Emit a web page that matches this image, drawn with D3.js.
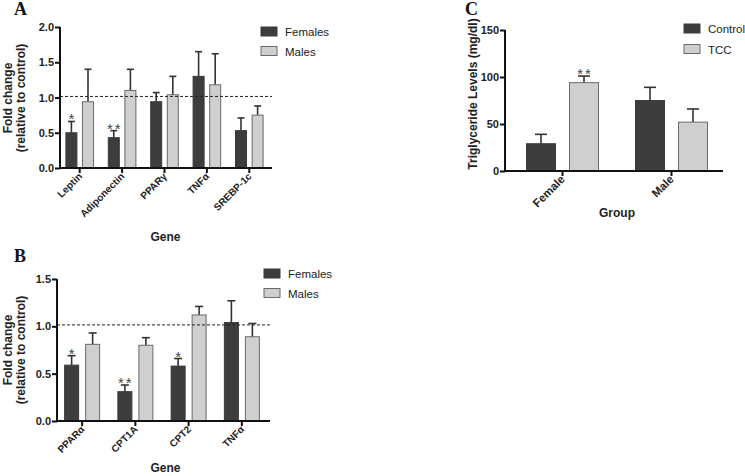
<!DOCTYPE html>
<html><head><meta charset="utf-8">
<script src="https://cdn.jsdelivr.net/npm/d3@7"></script>
<style>
body{margin:0;background:#fff}
svg{display:block}
</style>
</head><body>
<svg id="chart" width="745" height="476" font-family="Liberation Sans, Arial, sans-serif"></svg>
<script>
// ---- Panel A data ----
const genesA = ["Leptin", "Adiponectin", "PPARγ", "TNFα", "SREBP-1c"];
const femalesA = [0.50, 0.43, 0.94, 1.30, 0.53];
const femalesErrA = [0.16, 0.10, 0.13, 0.35, 0.18];
const malesA = [0.94, 1.10, 1.04, 1.18, 0.75];
const malesErrA = [0.46, 0.30, 0.26, 0.44, 0.13];
const sigFemalesA = ["*", "**", "", "", ""];
const ticksA = [0.0, 0.5, 1.0, 1.5, 2.0];

// ---- Panel B data ----
const genesB = ["PPARα", "CPT1A", "CPT2", "TNFα"];
const femalesB = [0.59, 0.31, 0.58, 1.04];
const femalesErrB = [0.10, 0.07, 0.08, 0.23];
const malesB = [0.81, 0.80, 1.12, 0.89];
const malesErrB = [0.12, 0.08, 0.09, 0.14];
const sigFemalesB = ["*", "**", "*", ""];
const ticksB = [0.0, 0.5, 1.0, 1.5];

// ---- Panel C data ----
const groupsC = ["Female", "Male"];
const controlC = [29, 75];
const controlErrC = [10, 14];
const tccC = [94, 52];
const tccErrC = [7, 14];
const sigTccC = ["**", ""];
const ticksC = [0, 50, 100, 150];

const refLine = 1.015;
const seriesAB = ["Females", "Males"];
const seriesC = ["Control", "TCC"];

const DARK = "#3d3d3d", LIGHT = "#cfcfd1", STROKE = "#3a3a3a", LSTROKE = "#6a6a6a";
const SANS = "Liberation Sans, Arial, sans-serif";
const svg = d3.select("#chart");

function panel(o) {
  const g = svg.append("g");
  const x = d3.scaleBand().domain(o.cats).range([o.x0, o.x1]).padding(0);
  const y = d3.scaleLinear().domain([0, o.ymax]).range([o.yBot, o.yTop]);
  const cxOf = c => x(c) + x.bandwidth() / 2 + o.shift;

  const series = [
    {vals: o.s1, errs: o.e1, fill: DARK, stroke: STROKE, off: -o.off, sig: o.sig1},
    {vals: o.s2, errs: o.e2, fill: LIGHT, stroke: LSTROKE, off: o.off, sig: o.sig2}
  ];
  series.forEach(s => {
    o.cats.forEach((c, i) => {
      const cx = cxOf(c) + s.off;
      const v = s.vals[i], e = s.errs[i];
      g.append("line").attr("x1", cx).attr("x2", cx).attr("y1", y(v)).attr("y2", y(v + e))
        .attr("stroke", "#333").attr("stroke-width", 1.6);
      g.append("line").attr("x1", cx - o.capW / 2).attr("x2", cx + o.capW / 2)
        .attr("y1", y(v + e)).attr("y2", y(v + e)).attr("stroke", "#333").attr("stroke-width", 1.6);
      g.append("rect").attr("x", cx - o.barW / 2).attr("width", o.barW)
        .attr("y", y(v)).attr("height", y(0) - y(v))
        .attr("fill", s.fill).attr("stroke", s.stroke).attr("stroke-width", 1);
      if (s.sig && s.sig[i]) {
        g.append("text").attr("x", cx + (s.sig[i].length > 1 ? 1 : 0)).attr("y", y(v + e) + 3)
          .attr("text-anchor", "middle").attr("font-size", o.sigSize)
          .attr("letter-spacing", s.sig[i].length > 1 ? 2 : 0)
          .attr("fill", "#444444").text(s.sig[i]);
      }
    });
  });

  if (o.ref) {
    g.append("line").attr("x1", o.x0).attr("x2", o.x1).attr("y1", y(o.ref)).attr("y2", y(o.ref))
      .attr("stroke", "#222").attr("stroke-width", 1).attr("stroke-dasharray", "3,2");
  }

  // y axis
  const ya = g.append("g").attr("transform", `translate(${o.x0},0)`)
    .call(d3.axisLeft(y).tickValues(o.ticks).tickFormat(o.fmt).tickSize(5).tickPadding(1));
  ya.select(".domain").attr("stroke", "#111").attr("stroke-width", 2)
    .attr("d", `M0,${o.yTop}V${o.yBot + 1}`);
  ya.selectAll(".tick line").attr("stroke", "#111").attr("stroke-width", 2);
  ya.selectAll(".tick text").attr("font-size", o.tickSize).attr("font-weight", "bold")
    .attr("font-family", SANS).attr("fill", "#222");

  // x axis (ticks only; labels drawn separately)
  const xa = g.append("g").attr("transform", `translate(0,${o.yBot})`)
    .call(d3.axisBottom(x).tickSize(5).tickFormat(""));
  xa.selectAll(".tick").attr("transform", d => `translate(${cxOf(d)},0)`);
  xa.select(".domain").attr("stroke", "#111").attr("stroke-width", 2)
    .attr("d", `M${o.x0 - 1},0H${o.x1}`);
  xa.selectAll(".tick line").attr("stroke", "#111").attr("stroke-width", 2);

  // rotated category labels
  g.selectAll("text.cat").data(o.cats).enter().append("text").attr("class", "cat")
    .attr("transform", d => `translate(${cxOf(d) + o.catDx},${o.yBot + o.catDy}) rotate(-45)`)
    .attr("text-anchor", "end").attr("font-size", o.catSize).attr("font-weight", "bold")
    .attr("fill", "#222").text(d => d);

  // axis titles
  g.append("text").attr("x", (o.x0 + o.x1) / 2 + o.xtDx).attr("y", o.xtY)
    .attr("text-anchor", "middle").attr("font-size", 12).attr("font-weight", "bold").attr("fill", "#222").text(o.xTitle);
  o.yTitle.forEach((t, k) => {
    g.append("text").attr("transform", `translate(${o.ytX[k]},${o.ytY}) rotate(-90)`)
      .attr("text-anchor", "middle").attr("font-size", 12).attr("font-weight", "bold").attr("fill", "#222").text(t);
  });

  // panel letter
  g.append("text").attr("x", o.letterX).attr("y", o.letterY)
    .attr("font-family", "Liberation Serif, Times New Roman, serif")
    .attr("font-size", 18).attr("font-weight", "bold").attr("fill", "#111").text(o.letter);

  // legend
  o.legNames.forEach((n, k) => {
    g.append("rect").attr("x", o.legX).attr("y", o.legY + k * o.legGap).attr("width", o.legW).attr("height", 9)
      .attr("fill", k === 0 ? DARK : LIGHT).attr("stroke", k === 0 ? STROKE : LSTROKE).attr("stroke-width", 1);
    g.append("text").attr("x", o.legX + o.legW + 8).attr("y", o.legY + k * o.legGap + 9)
      .attr("font-size", 11.5).attr("fill", "#222").text(n);
  });
}

panel({
  cats: genesA, s1: femalesA, e1: femalesErrA, s2: malesA, e2: malesErrA, sig1: sigFemalesA, sig2: null,
  ticks: ticksA, ymax: 2.0, fmt: d3.format(".1f"), ref: refLine,
  x0: 60, x1: 272, yTop: 27, yBot: 168, shift: -1.5, off: 8.3, barW: 11, capW: 7,
  tickSize: 11, catSize: 10, catDx: 3, catDy: 9, sigSize: 15,
  xTitle: "Gene", xtY: 241, xtDx: -0.5,
  yTitle: ["Fold change", "(relative to control)"], ytX: [12, 25], ytY: 98,
  letter: "A", letterX: 14, letterY: 15,
  legNames: seriesAB, legX: 261, legY: 27, legW: 16, legGap: 19.5
});

panel({
  cats: genesB, s1: femalesB, e1: femalesErrB, s2: malesB, e2: malesErrB, sig1: sigFemalesB, sig2: null,
  ticks: ticksB, ymax: 1.5, fmt: d3.format(".1f"), ref: refLine,
  x0: 57, x1: 270, yTop: 279, yBot: 421, shift: -1.5, off: 10.5, barW: 14, capW: 8,
  tickSize: 11, catSize: 10, catDx: 3, catDy: 9, sigSize: 15,
  xTitle: "Gene", xtY: 472, xtDx: 2,
  yTitle: ["Fold change", "(relative to control)"], ytX: [12, 25], ytY: 350,
  letter: "B", letterX: 14, letterY: 262,
  legNames: seriesAB, legX: 264, legY: 269, legW: 16, legGap: 19.5
});

panel({
  cats: groupsC, s1: controlC, e1: controlErrC, s2: tccC, e2: tccErrC, sig1: null, sig2: sigTccC,
  ticks: ticksC, ymax: 150, fmt: d3.format("d"), ref: null,
  x0: 505, x1: 723, yTop: 30, yBot: 171, shift: 3, off: 21.5, barW: 29, capW: 12,
  tickSize: 11, catSize: 11.5, catDx: 3, catDy: 9, sigSize: 15,
  xTitle: "Group", xtY: 217, xtDx: 3,
  yTitle: ["Triglyceride Levels (mg/dl)"], ytX: [477], ytY: 94,
  letter: "C", letterX: 465, letterY: 15,
  legNames: seriesC, legX: 684, legY: 24, legW: 16, legGap: 20.5
});
</script>
</body></html>
